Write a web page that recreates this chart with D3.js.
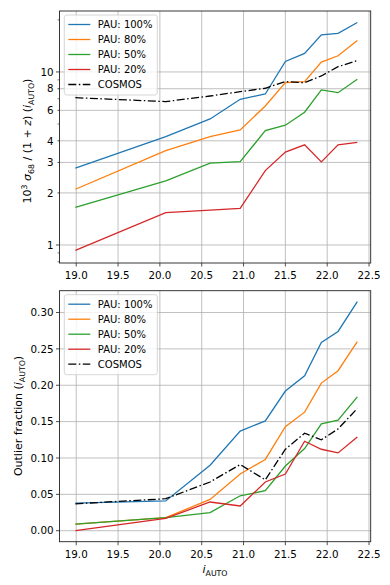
<!DOCTYPE html>
<html>
<head>
<meta charset="utf-8">
<script src="https://cdn.jsdelivr.net/npm/d3@7"></script>
<style>
  body { margin: 0; background: #fff; }
  svg { font-family: "DejaVu Sans", sans-serif; }
</style>
</head>
<body>
<script>
var width = 390,
    height = 585;

// mean i_AUTO of each magnitude bin
var mags = [18.99, 20.07, 20.6, 20.96, 21.26, 21.5, 21.73, 21.93, 22.13, 22.36];

// 10^3 sigma68/(1+z)
var sig100 = [2.78, 4.23, 5.35, 6.95, 7.46, 11.5, 12.8, 16.4, 16.7, 19.3];
var sig80 = [2.10, 3.51, 4.23, 4.62, 6.36, 8.67, 8.79, 11.4, 12.4, 15.2];
var sig50 = [1.65, 2.35, 2.97, 3.03, 4.58, 4.92, 5.85, 7.87, 7.59, 9.07];
var sig20 = [0.93, 1.54, 1.59, 1.63, 2.69, 3.44, 3.79, 3.02, 3.79, 3.92];
var sigCosmos = [7.1, 6.74, 7.26, 7.69, 8.05, 8.79, 8.67, 9.48, 10.73, 11.62];

// outlier fraction
var out100 = [0.038, 0.041, 0.090, 0.137, 0.151, 0.192, 0.213, 0.259, 0.274, 0.315];
var out80 = [0.009, 0.018, 0.043, 0.078, 0.098, 0.143, 0.163, 0.203, 0.220, 0.260];
var out50 = [0.009, 0.018, 0.025, 0.048, 0.055, 0.089, 0.113, 0.147, 0.152, 0.184];
var out20 = [0.000, 0.017, 0.0395, 0.034, 0.067, 0.078, 0.123, 0.112, 0.107, 0.129];
var outCosmos = [0.037, 0.044, 0.067, 0.091, 0.070, 0.112, 0.134, 0.125, 0.140, 0.168];

var labels = ["PAU: 100%", "PAU: 80%", "PAU: 50%", "PAU: 20%", "COSMOS"];
var colors = ["#1f77b4", "#ff7f0e", "#2ca02c", "#d62728", "#000000"];

var xTicks = [19.0, 19.5, 20.0, 20.5, 21.0, 21.5, 22.0, 22.5];
var logLabelTicks = [1, 2, 3, 4, 6, 8, 10];
var logMajor = [1, 10];
var logOtherTicks = [0.8, 0.9, 5, 7, 9, 20];
var outTicks = [0.00, 0.05, 0.10, 0.15, 0.20, 0.25, 0.30];

var svg = d3.select("body").append("svg")
    .attr("width", width)
    .attr("height", height);

var left = 59.5, right = 370.7;

var x = d3.scaleLinear().domain([18.8, 22.52]).range([left, right]);
var yTop = d3.scaleLog().domain([0.787, 22.5]).range([263, 11]);
var yBot = d3.scaleLinear().domain([-0.0151, 0.330]).range([541.7, 290.7]);

function panel(y, series, yticks, fmt, minorTicks, majorTicks) {
  var top = y.range()[1], bottom = y.range()[0];
  var g = svg.append("g");

  // grid
  g.append("g").selectAll("line").data(xTicks).enter().append("line")
    .attr("x1", function(d) { return x(d); }).attr("x2", function(d) { return x(d); })
    .attr("y1", top).attr("y2", bottom)
    .attr("stroke", "#b0b0b0").attr("stroke-width", 0.8);
  g.append("g").selectAll("line").data(yticks).enter().append("line")
    .attr("x1", left).attr("x2", right)
    .attr("y1", function(d) { return y(d); }).attr("y2", function(d) { return y(d); })
    .attr("stroke", "#b0b0b0").attr("stroke-width", 0.8);

  // lines
  var line = d3.line()
    .x(function(d, i) { return x(mags[i]); })
    .y(function(d) { return y(d); });
  g.append("g").selectAll("path").data(series).enter().append("path")
    .attr("d", function(d) { return line(d); })
    .attr("fill", "none")
    .attr("stroke", function(d, i) { return colors[i]; })
    .attr("stroke-width", 1.3)
    .attr("stroke-dasharray", function(d, i) { return i == 4 ? "8,2.5,1.5,2.5" : null; });

  // spines
  g.append("rect")
    .attr("x", left).attr("y", top)
    .attr("width", right - left).attr("height", bottom - top)
    .attr("fill", "none").attr("stroke", "#222").attr("stroke-width", 0.9);

  // x ticks
  var xt = g.append("g").selectAll("g").data(xTicks).enter().append("g");
  xt.append("line")
    .attr("x1", function(d) { return x(d); }).attr("x2", function(d) { return x(d); })
    .attr("y1", bottom).attr("y2", bottom + 3.5)
    .attr("stroke", "#222").attr("stroke-width", 0.8);
  xt.append("text")
    .attr("x", function(d) { return x(d); })
    .attr("y", bottom + 16)
    .attr("text-anchor", "middle")
    .attr("font-size", 10.3)
    .text(function(d) { return d.toFixed(1); });

  // y ticks
  var yt = g.append("g").selectAll("g").data(yticks).enter().append("g");
  yt.append("line")
    .attr("x1", function(d) { return majorTicks.indexOf(d) >= 0 ? left - 3.5 : left - 2; })
    .attr("x2", left)
    .attr("y1", function(d) { return y(d); }).attr("y2", function(d) { return y(d); })
    .attr("stroke", "#222").attr("stroke-width", 0.8);
  yt.append("text")
    .attr("x", left - 6)
    .attr("y", function(d) { return y(d) + 3.7; })
    .attr("text-anchor", "end")
    .attr("font-size", 10.3)
    .text(fmt);
  g.append("g").selectAll("line").data(minorTicks).enter().append("line")
    .attr("x1", left - 2).attr("x2", left)
    .attr("y1", function(d) { return y(d); }).attr("y2", function(d) { return y(d); })
    .attr("stroke", "#222").attr("stroke-width", 0.6);

  // legend
  var lx = 64.3, ly = top + 4;
  g.append("rect")
    .attr("x", lx).attr("y", ly)
    .attr("width", 93).attr("height", 80)
    .attr("rx", 2.5)
    .attr("fill", "#fff").attr("fill-opacity", 0.8)
    .attr("stroke", "#ccc").attr("stroke-width", 0.8);
  var le = g.append("g").selectAll("g").data(labels).enter().append("g")
    .attr("transform", function(d, i) { return "translate(0," + (ly + 9.5 + i * 15) + ")"; });
  le.append("line")
    .attr("x1", lx + 4).attr("x2", lx + 26)
    .attr("stroke", function(d, i) { return colors[i]; })
    .attr("stroke-width", 1.3)
    .attr("stroke-dasharray", function(d, i) { return i == 4 ? "8,2.5,1.5,2.5" : null; });
  le.append("text")
    .attr("x", lx + 33.5)
    .attr("y", 3.6)
    .attr("font-size", 10)
    .text(function(d) { return d; });
  return g;
}

panel(yTop, [sig100, sig80, sig50, sig20, sigCosmos], logLabelTicks,
  function(d) { return d; }, logOtherTicks, logMajor);
panel(yBot, [out100, out80, out50, out20, outCosmos], outTicks,
  function(d) { return d.toFixed(2); }, [], outTicks);

// axis labels
var t1 = svg.append("text")
  .attr("transform", "translate(31," + 141 + ") rotate(-90)")
  .attr("text-anchor", "middle")
  .attr("font-size", 11);
t1.append("tspan").text("10");
t1.append("tspan").attr("font-size", 7.8).attr("dy", -4.2).text("3");
t1.append("tspan").attr("dy", 4.2).text(" ");
t1.append("tspan").attr("font-style", "italic").text("σ");
t1.append("tspan").attr("font-size", 7.8).attr("dy", 2.6).text("68");
t1.append("tspan").attr("dy", -2.6).text(" / (1 + ");
t1.append("tspan").attr("font-style", "italic").text("z");
t1.append("tspan").text(") (");
t1.append("tspan").attr("font-style", "italic").text("i");
t1.append("tspan").attr("font-size", 7.8).attr("dy", 2.6).text("AUTO");
t1.append("tspan").attr("dy", -2.6).text(")");

var t2 = svg.append("text")
  .attr("transform", "translate(22," + 416 + ") rotate(-90)")
  .attr("text-anchor", "middle")
  .attr("font-size", 11);
t2.append("tspan").text("Outlier fraction (");
t2.append("tspan").attr("font-style", "italic").text("i");
t2.append("tspan").attr("font-size", 7.8).attr("dy", 2.6).text("AUTO");
t2.append("tspan").attr("dy", -2.6).text(")");

var t3 = svg.append("text")
  .attr("x", 215).attr("y", 573)
  .attr("text-anchor", "middle")
  .attr("font-size", 11);
t3.append("tspan").attr("font-style", "italic").text("i");
t3.append("tspan").attr("font-size", 7.8).attr("dy", 2.6).text("AUTO");
</script>
</body>
</html>
